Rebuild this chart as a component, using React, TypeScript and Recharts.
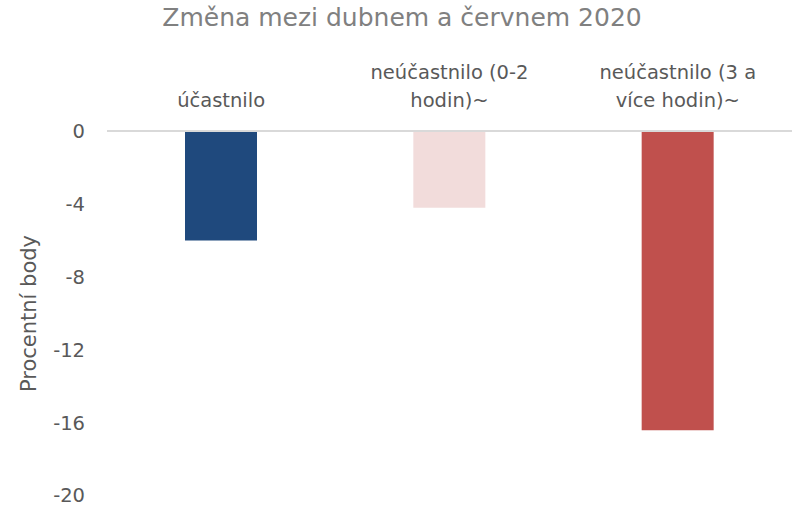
import { BarChart, Bar, XAxis, YAxis, Cell, Label } from "recharts";

const categories = ["účastnilo", "neúčastnilo (0-2 hodin)~", "neúčastnilo (3 a více hodin)~"];
const categoryLines = [["účastnilo"], ["neúčastnilo (0-2", "hodin)~"], ["neúčastnilo (3 a", "více hodin)~"]];
const changes = [-6.0, -4.2, -16.4];
const barColors = ["#1F497D", "#F2DCDB", "#C0504D"];
const yTicks = [0, -4, -8, -12, -16, -20];

const FONT = "'DejaVu Sans', sans-serif";

const data = categories.map((c, i) => ({ name: c, value: changes[i] }));

const CategoryTick = ({ x, payload, index }: any) => {
  const lines = categoryLines[payload?.index ?? index] ?? [payload.value];
  // bottom-aligned: last line sits on the lower baseline
  const baseLast = 107;
  return (
    <g>
      {lines.map((ln: string, i: number) => (
        <text
          key={i}
          x={x}
          y={baseLast - (lines.length - 1 - i) * 28}
          textAnchor="middle"
          fill="#595959"
          fontSize={19.5}
          fontFamily={FONT}
        >
          {ln}
        </text>
      ))}
    </g>
  );
};

export default function App() {
  return (
    <div style={{ position: "absolute", left: 0, top: 0, width: 792, height: 506, background: "#fff" }}>
      <div
        style={{
          position: "absolute",
          top: 3,
          left: 0,
          width: 792,
          textAlign: "center",
          paddingLeft: 12,
          boxSizing: "border-box",
          fontFamily: FONT,
          fontSize: 25,
          color: "#808080",
        }}
      >
        Změna mezi dubnem a červnem 2020
      </div>
      <BarChart
        width={792}
        height={506}
        data={data}
        margin={{ top: 0, right: 0, left: 0, bottom: 10 }}
      >
        <XAxis
          dataKey="name"
          orientation="top"
          height={131}
          axisLine={{ stroke: "#D9D9D9", strokeWidth: 2 }}
          tickLine={false}
          tick={<CategoryTick />}
          interval={0}
        />
        <YAxis
          width={107}
          domain={[-20, 0]}
          ticks={yTicks}
          axisLine={false}
          tickLine={false}
          tickSize={0}
          tickMargin={22}
          tick={{ fill: "#595959", fontSize: 19.5, fontFamily: FONT }}
        >
          <Label
            value="Procentní body"
            angle={-90}
            position="insideLeft"
            offset={29}
            style={{ textAnchor: "middle", fill: "#595959", fontSize: 21, fontFamily: FONT }}
          />
        </YAxis>
        <Bar dataKey="value" barSize={72} isAnimationActive={false}>
          {data.map((d, i) => (
            <Cell key={d.name} fill={barColors[i]} />
          ))}
        </Bar>
      </BarChart>
    </div>
  );
}
